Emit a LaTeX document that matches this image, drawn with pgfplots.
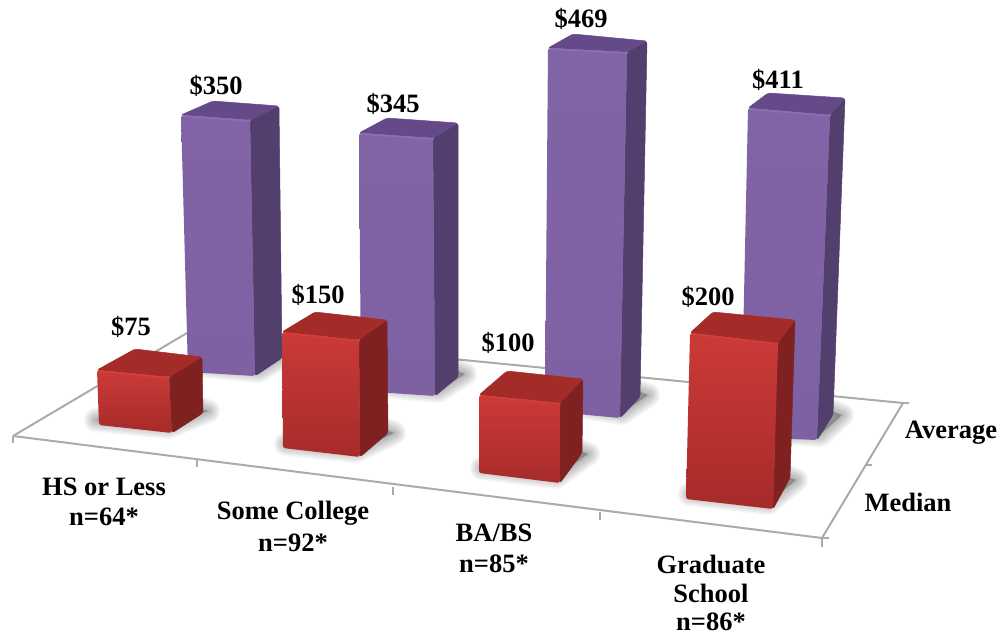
\documentclass[border=0pt]{standalone}
\usepackage{fontspec}
\setmainfont{Liberation Serif}
\usepackage{pgfplots}
\pgfplotsset{compat=1.18}

\definecolor{pFrontA}{HTML}{8064A6}
\definecolor{pFrontB}{HTML}{7D61A2}
\definecolor{pSide}{HTML}{523F6E}
\definecolor{pTop}{HTML}{644A88}
\definecolor{pRim}{HTML}{8B6EB4}
\definecolor{rFrontA}{HTML}{CB3A38}
\definecolor{rFrontB}{HTML}{A62B29}
\definecolor{rSide}{HTML}{7E2120}
\definecolor{rTop}{HTML}{A32C29}
\definecolor{rRim}{HTML}{D63C3A}
\definecolor{floorline}{HTML}{ABABAB}

% a bar: #1 colour prefix, #2 front, #3 side, #4 top, #5 lit edge (pixel coordinates of the picture)
\newcommand{\barbox}[5]{%
  \addplot[draw=#1Side, fill=#1Side, line width=.5pt, rounded corners=2.5pt] coordinates {#3} -- cycle;
  \addplot[draw=#1Top, fill=#1Top, line width=.5pt, rounded corners=2.5pt] coordinates {#4} -- cycle;
  \addplot[draw=none, top color=#1FrontA, bottom color=#1FrontB, rounded corners=2.5pt] coordinates {#2} -- cycle;
  \addplot[draw=#1Rim, line width=1.6pt, line cap=round] coordinates {#5};
}
% soft floor shadow, stacked strokes
\newcommand{\softshadow}[1]{%
  \addplot[draw=black, opacity=.04, line width=24pt, line join=round] coordinates {#1} -- cycle;
  \addplot[draw=black, opacity=.04, line width=21pt, line join=round] coordinates {#1} -- cycle;
  \addplot[draw=black, opacity=.04, line width=18pt, line join=round] coordinates {#1} -- cycle;
  \addplot[draw=black, opacity=.04, line width=15pt, line join=round] coordinates {#1} -- cycle;
  \addplot[draw=black, opacity=.04, line width=12pt, line join=round] coordinates {#1} -- cycle;
  \addplot[draw=black, opacity=.04, line width=9pt, line join=round] coordinates {#1} -- cycle;
  \addplot[draw=black, opacity=.04, line width=6pt, line join=round] coordinates {#1} -- cycle;
  \addplot[draw=black, opacity=.04, line width=3pt, line join=round] coordinates {#1} -- cycle;
  \addplot[draw=none, fill=black, opacity=.25] coordinates {#1} -- cycle;
}

\begin{document}
\begin{tikzpicture}
\begin{axis}[
  width=1001pt, height=636pt,
  scale only axis,
  hide axis,
  clip=false,
  xmin=0, xmax=1001,
  ymin=0, ymax=636,
  y dir=reverse,
  nodes={font=\fontsize{26.5}{30}\selectfont\bfseries, inner sep=0pt},
]
\addplot[draw=none, forget plot] coordinates {(0,0)(1001,636)};

% floor
\addplot[floorline, line width=2pt] coordinates {(13,436)(187,333)};
\addplot[floorline, line width=2pt] coordinates {(187,333)(903,403)(822,538)(13,436)};
\addplot[floorline, line width=1.5pt] coordinates {(13,436)(13,443)};
\addplot[floorline, line width=1.5pt] coordinates {(197,460)(197,467)};
\addplot[floorline, line width=1.5pt] coordinates {(393,487)(393,495)};
\addplot[floorline, line width=1.5pt] coordinates {(600,512)(600,520)};
\addplot[floorline, line width=1.5pt] coordinates {(822,538)(822,547)};
\addplot[floorline, line width=1.5pt] coordinates {(822,538)(829,538)};
\addplot[floorline, line width=1.5pt] coordinates {(865,465)(872,465)};
\addplot[floorline, line width=1.5pt] coordinates {(903,403)(909,403)};

% Average
\softshadow{(205,366)(258,371)(287,354)(260,350)}
\softshadow{(385,386)(438,391)(465,374)(440,365)}
\softshadow{(590,408)(622,413)(648,395)(620,385)}
\softshadow{(770,432)(820,435)(842,415)(815,405)}

\barbox{p}{(181,115)(250,120)(255,376)(188,372)}{(250,120)(279,106)(282,358)(255,376)}{(181,115)(213,101)(279,106)(250,120)}{(183,116)(250,121)}
\barbox{p}{(359,133)(433,138)(435,396)(361,391)}{(433,138)(458,123)(458,377)(435,396)}{(359,133)(387,118)(458,123)(433,138)}{(361,134)(433,139)}
\barbox{p}{(548,48)(627,52)(620,418)(545,411)}{(627,52)(647,41)(640,397)(620,418)}{(548,48)(573,34)(647,41)(627,52)}{(550,49)(627,53)}
\barbox{p}{(748,108)(830,115)(817,440)(741,437)}{(830,115)(845,98)(833,415)(817,440)}{(748,108)(768,93)(845,98)(830,115)}{(750,109)(830,116)}

% Median
\softshadow{(96,420)(168,427)(208,411)(170,400)}
\softshadow{(286,444)(356,451)(394,433)(360,420)}
\softshadow{(482,468)(556,477)(588,454)(556,440)}
\softshadow{(690,494)(768,503)(796,480)(770,470)}

\barbox{r}{(97,370)(169,377)(172,433)(99,425)}{(169,377)(202,357)(203,413)(172,433)}{(97,370)(135,349)(202,357)(169,377)}{(99,371)(169,378)}
\barbox{r}{(282,332)(359,340)(360,457)(283,448)}{(359,340)(387,320)(388,433)(360,457)}{(282,332)(315,312)(387,320)(359,340)}{(284,333)(359,341)}
\barbox{r}{(479,395)(560,403)(560,483)(479,473)}{(560,403)(583,379)(582,453)(560,483)}{(479,395)(507,371)(583,379)(560,403)}{(481,396)(560,404)}
\barbox{r}{(690,333)(778,343)(773,509)(686,499)}{(778,343)(795,320)(790,478)(773,509)}{(690,333)(713,312)(795,320)(778,343)}{(692,334)(778,344)}

% value labels
\node at (axis cs:131,327) {\$75};
\node at (axis cs:216,86) {\$350};
\node at (axis cs:318,295) {\$150};
\node at (axis cs:393,104) {\$345};
\node at (axis cs:508,343) {\$100};
\node at (axis cs:581,19) {\$469};
\node at (axis cs:708,297) {\$200};
\node at (axis cs:778,80) {\$411};

% categories
\node at (axis cs:104,487) {HS or Less};
\node at (axis cs:104,517) {n=64*};
\node at (axis cs:293,513) {Some College};
\node at (axis cs:293,543) {n=92*};
\node at (axis cs:494,533) {BA/BS};
\node at (axis cs:494,564) {n=85*};
\node at (axis cs:711,564) {Graduate};
\node at (axis cs:711,593) {School};
\node at (axis cs:711,622) {n=86*};
\node at (axis cs:951,433) {Average};
\node at (axis cs:908,502) {Median};
\end{axis}
\end{tikzpicture}
\end{document}
